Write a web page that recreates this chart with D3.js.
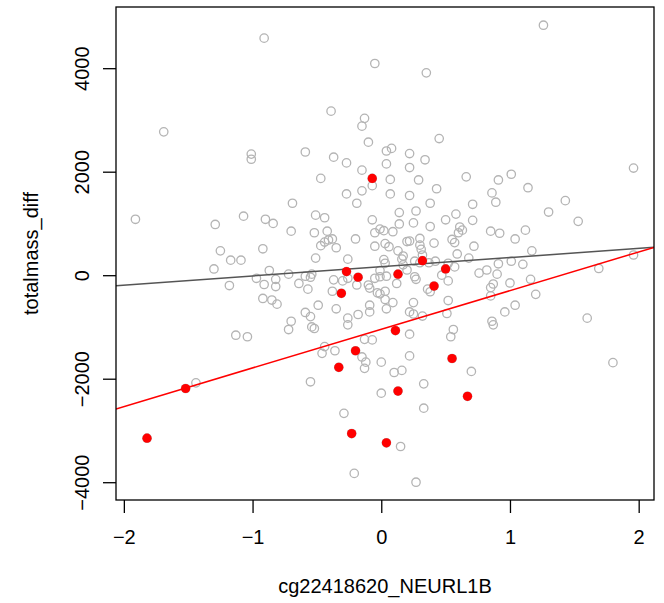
<!DOCTYPE html>
<html>
<head>
<meta charset="utf-8">
<script src="https://cdn.jsdelivr.net/npm/d3@7"></script>
<style>
  body { margin: 0; background: #fff; }
  text { font-family: "Liberation Sans", Arial, Helvetica, sans-serif; fill: #000; }
</style>
</head>
<body>
<div class="canvas"></div>
<script>
// all samples (open grey circles)
const greyPoints = [
  [-0.91, 4590], [-0.05, 4100], [1.26, 4840], [0.35, 3920], [-0.39, 3180], [-0.13, 3040],
  [-0.15, 2890], [-1.69, 2780], [-0.10, 2580], [0.45, 2650], [-1.01, 2350], [-1.01, 2250],
  [-0.59, 2390], [-0.37, 2290], [-0.27, 2180], [-0.15, 2040], [0.04, 2410], [0.08, 2460],
  [0.04, 2160], [0.22, 2360], [0.22, 2090], [0.34, 2240], [0.66, 1910], [0.91, 1850],
  [1.01, 1960], [1.96, 2080], [0.07, 1860], [0.29, 1850], [-0.47, 1880], [-0.27, 1580],
  [-0.15, 1640], [-0.07, 1740], [0.07, 1580], [-0.19, 1400], [-0.69, 1400], [-1.91, 1090],
  [-1.29, 990], [-1.07, 1150], [-0.90, 1090], [-0.84, 1010], [-0.51, 1170], [-0.44, 1120],
  [-0.07, 1080], [-0.70, 860], [-0.52, 830], [-0.42, 860], [-0.05, 830], [-0.01, 900],
  [0.02, 870], [-0.20, 710], [-0.41, 690], [-0.44, 650], [-0.47, 580], [-0.38, 710],
  [-0.35, 540], [-0.05, 570], [0.03, 620], [-1.25, 480], [-0.92, 520], [-1.17, 300],
  [-1.09, 300], [-0.51, 340], [-0.26, 320], [0.02, 310], [-1.30, 130], [-0.87, 100],
  [-0.72, 30], [-0.59, -10], [-0.55, -30], [-0.54, 30], [-0.01, 100], [-0.97, -50],
  [-0.91, -170], [-0.82, -70], [-0.82, -210], [-0.64, -150], [-0.57, -260], [-0.37, -80],
  [-0.30, -100], [-0.26, -50], [-0.19, -180], [-0.10, -180], [-0.09, -240], [-0.05, -50],
  [-0.01, -20], [0.04, -10], [-1.18, -190], [-0.38, -300], [-0.03, -330], [-0.01, -350],
  [0.03, -300], [-0.92, -440], [-0.85, -470], [-0.81, -550], [-0.49, -570], [-0.35, -640],
  [0.03, -460], [-0.59, -710], [-0.55, -790], [-0.18, -750], [-0.09, -570], [-0.09, -700],
  [-0.26, -820], [0.04, -640], [-0.70, -880], [-0.72, -1040], [-0.54, -990], [-0.52, -1020],
  [-0.26, -950], [-1.13, -1150], [-1.04, -1180], [-0.13, -1230], [-0.07, -1240],
  [0.22, 1550], [0.43, 1680], [0.86, 1600], [1.14, 1700], [0.89, 1420], [1.43, 1450],
  [0.38, 1400], [0.71, 1380], [0.14, 1220], [0.27, 1250], [1.30, 1230], [0.58, 1190],
  [0.14, 1000], [0.25, 1020], [0.50, 1080], [0.71, 1070], [1.53, 1050], [0.38, 950],
  [0.09, 850], [0.61, 940], [0.63, 880], [0.60, 830], [0.85, 860], [0.92, 820],
  [1.12, 880], [1.04, 710], [0.06, 560], [0.20, 660], [0.22, 670], [0.30, 720],
  [0.41, 630], [0.55, 700], [0.57, 640], [0.30, 590], [0.31, 510], [0.72, 570],
  [0.13, 480], [0.17, 380], [0.16, 320], [0.32, 400], [0.59, 420], [1.17, 480],
  [0.03, 240], [0.68, 340], [0.26, 280], [0.30, 250], [0.37, 250], [0.42, 280],
  [0.52, 240], [0.57, 170], [0.91, 230], [1.01, 280], [1.10, 220], [1.96, 400],
  [0.17, 210], [0.20, 110], [0.26, -20], [0.27, -70], [0.47, 10], [0.52, -100],
  [0.76, 50], [0.82, 110], [0.90, 30], [1.69, 140], [1.16, -70], [1.00, -140],
  [0.12, -150], [0.87, -160], [0.85, -230], [0.36, -260], [0.38, -310], [1.20, -360],
  [0.85, -390], [0.09, -520], [0.25, -520], [0.52, -480], [0.22, -700], [0.25, -740],
  [0.32, -780], [0.51, -730], [0.96, -700], [1.04, -570], [1.60, -820], [0.86, -880],
  [0.87, -950], [0.22, -1130], [0.56, -1040], [0.54, -1180], [-0.44, -1370], [-0.46, -1500],
  [-0.36, -1450], [-0.15, -1570], [-0.12, -1670], [-0.13, -1790], [0.00, -1670], [0.10, -1870],
  [0.16, -1830], [-1.44, -2070], [-0.55, -2050], [0.00, -2270], [-0.29, -2660], [-0.21, -3820],
  [0.22, -1550], [0.70, -1850], [1.80, -1680], [0.33, -2090], [0.33, -2560], [0.15, -3300],
  [0.27, -3990]
];

// highlighted samples (filled red)
const redPoints = [
  [-0.07, 1880], [-0.27, 80], [-0.18, -30], [-0.31, -340], [0.32, 290], [0.13, 30],
  [0.50, 130], [0.41, -200], [0.11, -1060], [-0.20, -1450], [-0.33, -1770], [-1.52, -2180],
  [-1.82, -3140], [-0.23, -3050], [0.04, -3230], [0.55, -1600], [0.13, -2230], [0.67, -2330]
];

// fitted lines: [intercept, slope]
const fitAll = [173, 177];
const fitRed = [-1035, 747];

const xTicks = [-2, -1, 0, 1, 2];
const yTicks = [-4000, -2000, 0, 2000, 4000];
const xLabel = 'cg22418620_NEURL1B';
const yLabel = 'totalmass_diff';

const width = 664;
const height = 603;
const box = {left: 116, right: 654, top: 7, bottom: 500};
const fontSize = '20px';

const svg = d3.select('.canvas')
    .append('svg')
    .attr('width', width)
    .attr('height', height);

const x = d3.scaleLinear().domain([-2.061, 2.119]).range([box.left, box.right]);
const y = d3.scaleLinear().domain([-4334, 5192]).range([box.bottom, box.top]);

svg.append('clipPath')
    .attr('id', 'plot-clip')
  .append('rect')
    .attr('x', box.left)
    .attr('y', box.top)
    .attr('width', box.right - box.left)
    .attr('height', box.bottom - box.top);

const plot = svg.append('g').attr('clip-path', 'url(#plot-clip)');

// grey rings for every sample
plot.selectAll('circle.all')
    .data(greyPoints.concat(redPoints))
    .enter()
    .append('circle')
    .attr('class', 'all')
    .attr('cx', d => x(d[0]))
    .attr('cy', d => y(d[1]))
    .attr('r', 4.2)
    .attr('fill', 'none')
    .attr('stroke', '#b4b4b4')
    .attr('stroke-width', 1.3);

// fit lines
const lineFor = (fit) => d3.line()
    .x(d => x(d))
    .y(d => y(fit[0] + fit[1] * d))(x.domain());

plot.append('path')
    .attr('d', lineFor(fitAll))
    .attr('fill', 'none')
    .attr('stroke', '#555555')
    .attr('stroke-width', 1.5);

plot.append('path')
    .attr('d', lineFor(fitRed))
    .attr('fill', 'none')
    .attr('stroke', '#ff0000')
    .attr('stroke-width', 1.5);

// red filled samples
plot.selectAll('circle.red')
    .data(redPoints)
    .enter()
    .append('circle')
    .attr('class', 'red')
    .attr('cx', d => x(d[0]))
    .attr('cy', d => y(d[1]))
    .attr('r', 4.6)
    .attr('fill', '#ff0000');

// box
svg.append('rect')
    .attr('x', box.left)
    .attr('y', box.top)
    .attr('width', box.right - box.left)
    .attr('height', box.bottom - box.top)
    .attr('fill', 'none')
    .attr('stroke', '#000')
    .attr('stroke-width', 1.3);

// axes
const fmt = d3.format('');

const xAxisGroup = svg.append('g')
    .attr('transform', `translate(0, ${box.bottom})`)
    .call(d3.axisBottom(x).tickValues(xTicks).tickSize(13).tickPadding(17).tickFormat(fmt));

const yAxisGroup = svg.append('g')
    .attr('transform', `translate(${box.left}, 0)`)
    .call(d3.axisLeft(y).tickValues(yTicks).tickSize(13).tickFormat(fmt));

[xAxisGroup, yAxisGroup].forEach(g => {
    g.select('.domain').remove();
    g.selectAll('line').attr('stroke', '#000').attr('stroke-width', 1.3);
    g.selectAll('text')
        .style('font-family', '"Liberation Sans", Arial, sans-serif')
        .style('font-size', fontSize)
        .attr('fill', '#000');
});

// rotate y tick labels R-style
yAxisGroup.selectAll('.tick')
    .attr('transform', null);
yAxisGroup.selectAll('.tick line')
    .attr('y1', d => y(d))
    .attr('y2', d => y(d));
yAxisGroup.selectAll('text')
    .attr('x', null)
    .attr('y', 0)
    .attr('dy', null)
    .attr('text-anchor', 'middle')
    .attr('transform', d => `translate(${89 - box.left}, ${y(d)}) rotate(-90)`);

// axis titles
svg.append('text')
    .attr('x', (box.left + box.right) / 2)
    .attr('y', 593)
    .attr('text-anchor', 'middle')
    .style('font-size', fontSize)
    .text(xLabel);

svg.append('text')
    .attr('transform', `translate(38, ${(box.top + box.bottom) / 2}) rotate(-90)`)
    .attr('text-anchor', 'middle')
    .style('font-size', fontSize)
    .text(yLabel);
</script>
</body>
</html>
